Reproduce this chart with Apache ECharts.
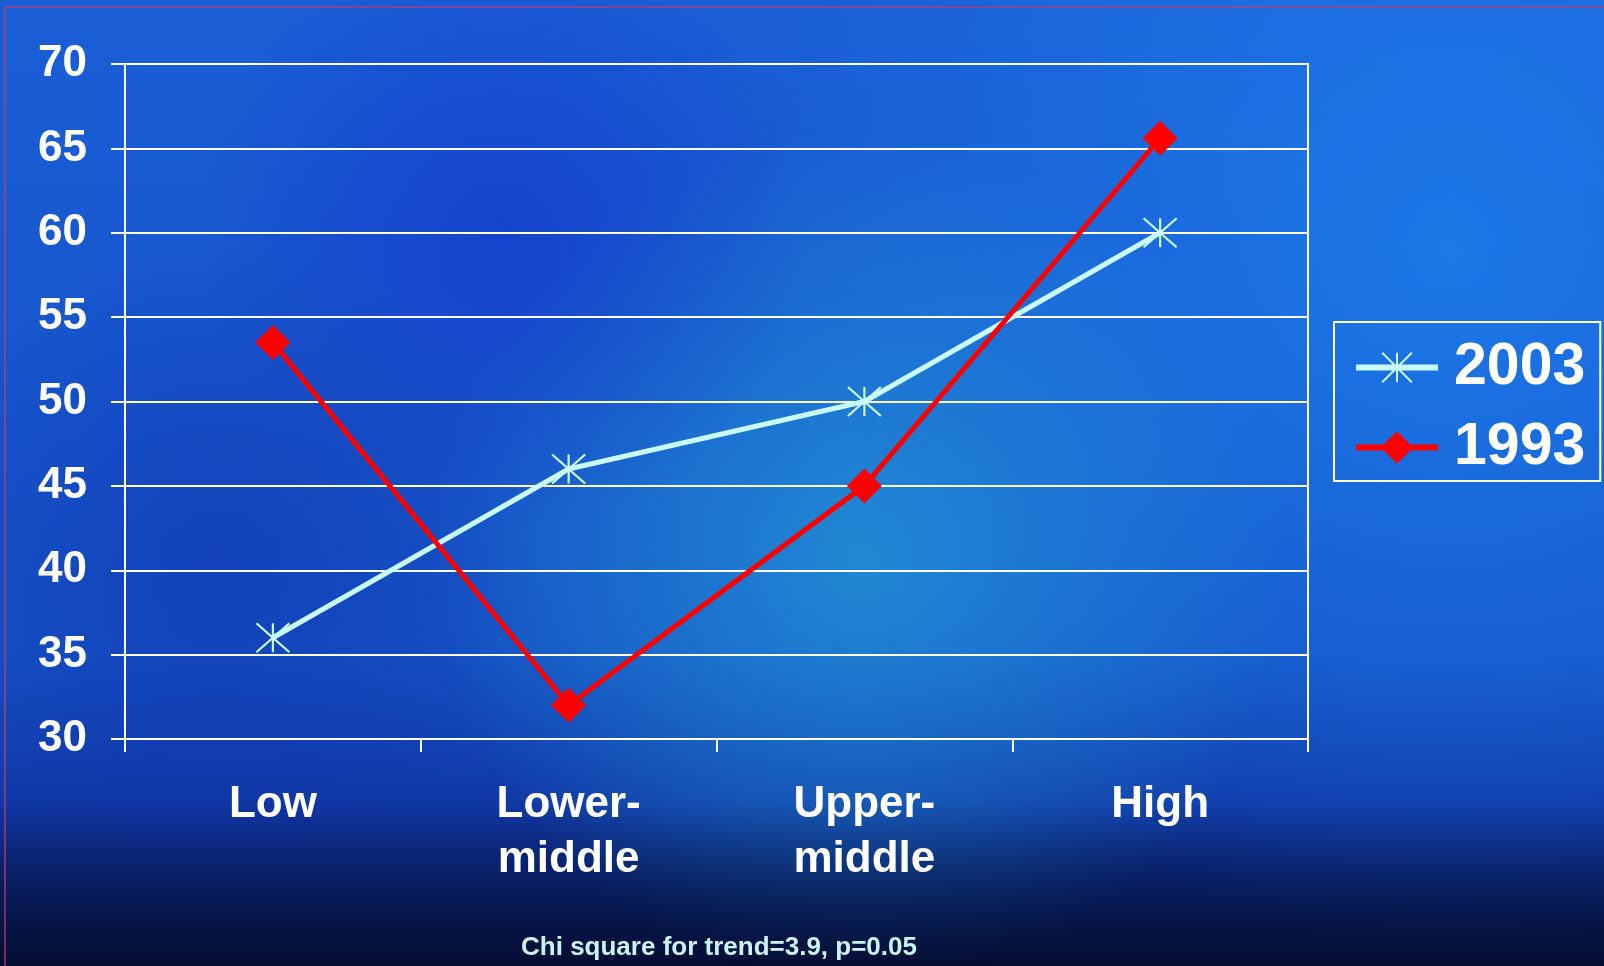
<!DOCTYPE html>
<html>
<head>
<meta charset="utf-8">
<title>Chart</title>
<script src="https://cdn.jsdelivr.net/npm/echarts@6/dist/echarts.min.js"></script>
<style>
  html, body { margin: 0; padding: 0; background: #0a2a80; }
  #main { width: 1604px; height: 966px; }
</style>
</head>
<body>
<div id="main"></div>
<script>
// data
const categories = ['Low', 'Lower-\nmiddle', 'Upper-\nmiddle', 'High'];
const values2003 = [36, 46, 50, 60];
const values1993 = [53.5, 32, 45, 65.6];
const footNote = 'Chi square for trend=3.9, p=0.05';

const FONT = '"Liberation Sans", Arial, sans-serif';
const CYAN = '#c8fcff';
const RED = '#ff0000';

// asterisk marker, vertical bar + X
const asterisk = 'path://M16 0L16 30M0 0L32 30M0 30L32 0';

function radial(x, y, r, color) {
  //helper for the background glow spots
  return {
    type: 'rect',
    z: -9,
    silent: true,
    shape: { x: 0, y: 0, width: 1604, height: 966 },
    style: {
      fill: {
        type: 'radial', x: x, y: y, r: r, global: true,
        colorStops: [
          { offset: 0, color: color },
          { offset: 1, color: color.replace(/[\d.]+\)$/, '0)') }
        ]
      }
    }
  };
}

const myChart = echarts.init(document.getElementById('main'));
myChart.setOption({
  backgroundColor: {
    type: 'linear', x: 0, y: 0, x2: 0, y2: 1,
    colorStops: [
      { offset: 0, color: '#1a5ed6' },
      { offset: 0.68, color: '#1550c4' },
      { offset: 0.84, color: '#1036a4' },
      { offset: 1, color: '#081a5a' }
    ]
  },
  animation: false,
  graphic: [
    radial(1450, 250, 700, 'rgba(30,130,240,0.75)'),
    radial(860, 560, 430, 'rgba(35,150,215,0.8)'),
    radial(500, 230, 300, 'rgba(20,45,200,0.5)'),
    radial(220, 560, 320, 'rgba(15,45,170,0.45)'),
    {
      type: 'rect', z: -8, silent: true,
      shape: { x: 0, y: 0, width: 1604, height: 966 },
      style: {
        fill: {
          type: 'linear', x: 0, y: 800, x2: 0, y2: 966, global: true,
          colorStops: [
            { offset: 0, color: 'rgba(3,8,35,0)' },
            { offset: 1, color: 'rgba(3,8,35,0.7)' }
          ]
        }
      }
    },
    {
      // thin frame line on top and left
      type: 'polyline', z: -7, silent: true,
      shape: { points: [[1604, 7], [5, 7], [5, 966]] },
      style: { stroke: 'rgba(190,60,110,0.85)', lineWidth: 1.5, fill: null }
    },
    {
      type: 'text', z: 10,
      x: 719, y: 948,
      style: {
        text: footNote,
        fill: '#c8f4fa',
        font: 'bold 26px ' + FONT,
        align: 'center',
        verticalAlign: 'middle'
      }
    }
  ],
  grid: {
    left: 125, right: 296, top: 64, bottom: 227,
    show: true, borderColor: '#ffffff', borderWidth: 2,
    backgroundColor: 'transparent'
  },
  legend: {
    orient: 'vertical',
    left: 1334, top: 322,
    padding: [16, 15, 4, 19],
    itemGap: 21,
    itemWidth: 82,
    itemHeight: 37,
    borderColor: '#ffffff',
    borderWidth: 2,
    itemStyle: { borderWidth: 2 },
    lineStyle: { width: 6 },
    textStyle: { color: '#ffffff', fontFamily: FONT, fontWeight: 'bold', fontSize: 59, padding: [0, 0, 0, 11] },
    data: ['2003', '1993']
  },
  xAxis: {
    type: 'category',
    data: categories,
    axisLine: { lineStyle: { color: '#ffffff', width: 2 } },
    axisTick: { show: true, length: 13, lineStyle: { color: '#ffffff', width: 2 } },
    axisLabel: {
      color: '#ffffff', fontFamily: FONT, fontWeight: 'bold', fontSize: 44,
      lineHeight: 55, margin: 38, interval: 0
    },
    splitLine: { show: false }
  },
  yAxis: {
    type: 'value',
    min: 30, max: 70, interval: 5,
    axisLine: { show: true, lineStyle: { color: '#ffffff', width: 2 } },
    axisTick: { show: true, length: 14, lineStyle: { color: '#ffffff', width: 2 } },
    axisLabel: {
      color: '#ffffff', fontFamily: FONT, fontWeight: 'bold', fontSize: 44,
      margin: 38, padding: [6, 0, 0, 0]
    },
    splitLine: { lineStyle: { color: '#ffffff', width: 2 } }
  },
  series: [
    {
      name: '2003',
      type: 'line',
      data: values2003,
      symbol: asterisk,
      symbolSize: [33, 29],
      lineStyle: { color: CYAN, width: 5 },
      itemStyle: { color: CYAN, borderColor: CYAN, borderWidth: 2 },
      emphasis: { disabled: true }
    },
    {
      name: '1993',
      type: 'line',
      data: values1993,
      symbol: 'diamond',
      symbolSize: 35,
      lineStyle: { color: RED, width: 5 },
      itemStyle: { color: RED, borderColor: RED, borderWidth: 0 },
      emphasis: { disabled: true }
    }
  ]
});
</script>
</body>
</html>
